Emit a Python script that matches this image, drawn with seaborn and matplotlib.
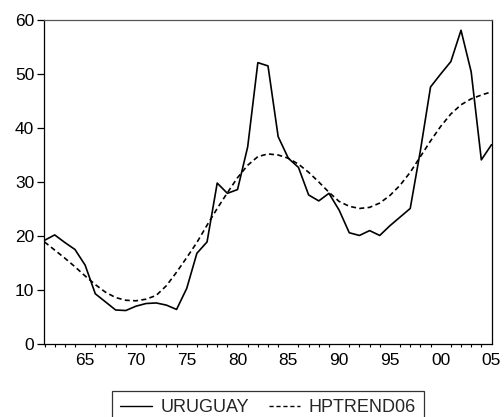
import numpy as np
import pandas as pd
import seaborn as sns
import matplotlib.pyplot as plt
from matplotlib.ticker import FixedLocator, MultipleLocator

years = list(range(1961, 2006))

uruguay = [19.2, 20.2, 18.8, 17.5, 14.6, 9.3, 7.8, 6.3, 6.2, 7.0,
           7.5, 7.6, 7.2, 6.4, 10.3, 16.8, 18.9, 29.8, 27.9, 28.6,
           36.5, 52.1, 51.5, 38.4, 34.4, 32.7, 27.6, 26.5, 27.9, 24.8,
           20.6, 20.1, 21.0, 20.1, 21.9, 23.5, 25.1, 35.8, 47.6, 50.0,
           52.3, 58.1, 50.4, 34.1, 36.9]

hptrend06 = [18.9, 17.4, 15.9, 14.3, 12.6, 11.0, 9.6, 8.6, 8.1, 8.0,
             8.3, 9.0, 10.8, 13.3, 16.0, 18.8, 22.0, 25.1, 28.0, 30.8,
             33.1, 34.7, 35.2, 35.0, 34.4, 33.3, 31.8, 30.0, 28.1, 26.4,
             25.5, 25.1, 25.3, 26.1, 27.5, 29.4, 31.8, 34.7, 37.6, 40.3,
             42.6, 44.3, 45.4, 46.1, 46.7]

series_names = ["URUGUAY", "HPTREND06"]
tick_years = [1965, 1970, 1975, 1980, 1985, 1990, 1995, 2000, 2005]
tick_labels = ["65", "70", "75", "80", "85", "90", "95", "00", "05"]

df = pd.DataFrame({
    "year": years * 2,
    "value": uruguay + hptrend06,
    "series": [series_names[0]] * len(years) + [series_names[1]] * len(years),
})

sns.set_theme(style="white")
plt.rcParams["font.family"] = ["Liberation Sans", "DejaVu Sans"]

fig = plt.figure(figsize=(5.04, 4.17), dpi=100)
ax = fig.add_axes([44 / 504, 1 - 344 / 417, 448 / 504, 324 / 417])

sns.lineplot(data=df, x="year", y="value", style="series",
             style_order=series_names,
             dashes={"URUGUAY": "", "HPTREND06": (3, 2)},
             color="black", linewidth=1.2, ax=ax, legend=False)

ax.set_xlim(1960.95, 2005.05)
ax.set_ylim(0, 60)
ax.set_xlabel("")
ax.set_ylabel("")

ax.xaxis.set_major_locator(FixedLocator(tick_years))
ax.set_xticklabels(tick_labels)
ax.xaxis.set_minor_locator(MultipleLocator(1))
ax.yaxis.set_major_locator(MultipleLocator(10))

ax.tick_params(axis="y", which="major", direction="out", length=5,
               width=0.9, color="black", labelsize=12.5, labelcolor="black", pad=2)
ax.tick_params(axis="x", which="major", direction="out", length=4.3,
               width=0.9, color="black", labelsize=12.5, labelcolor="black", pad=2)
ax.tick_params(axis="x", which="minor", direction="out", length=2.2,
               width=0.8, color="black", bottom=True)
ax.tick_params(axis="both", which="both", top=False, right=False, left=True)
ax.tick_params(axis="y", which="minor", left=False)

for side in ["left", "bottom", "right", "top"]:
    ax.spines[side].set_visible(True)
    ax.spines[side].set_color("black")
    ax.spines[side].set_linewidth(0.9)
ax.spines["top"].set_color("#555555")

handles = [plt.Line2D([], [], color="black", linewidth=1.0, linestyle="-"),
           plt.Line2D([], [], color="black", linewidth=1.0, linestyle=(0, (3, 2)))]
leg = fig.legend(handles, series_names, loc="upper center",
                 bbox_to_anchor=(268 / 504, 1 - 391 / 417), ncol=2,
                 frameon=True, fancybox=False, fontsize=13,
                 handlelength=1.75, handletextpad=0.45, columnspacing=1.1,
                 borderpad=0.45, borderaxespad=0)
leg.get_frame().set_edgecolor("black")
leg.get_frame().set_linewidth(0.9)

fig.savefig("out.png", dpi=100)
